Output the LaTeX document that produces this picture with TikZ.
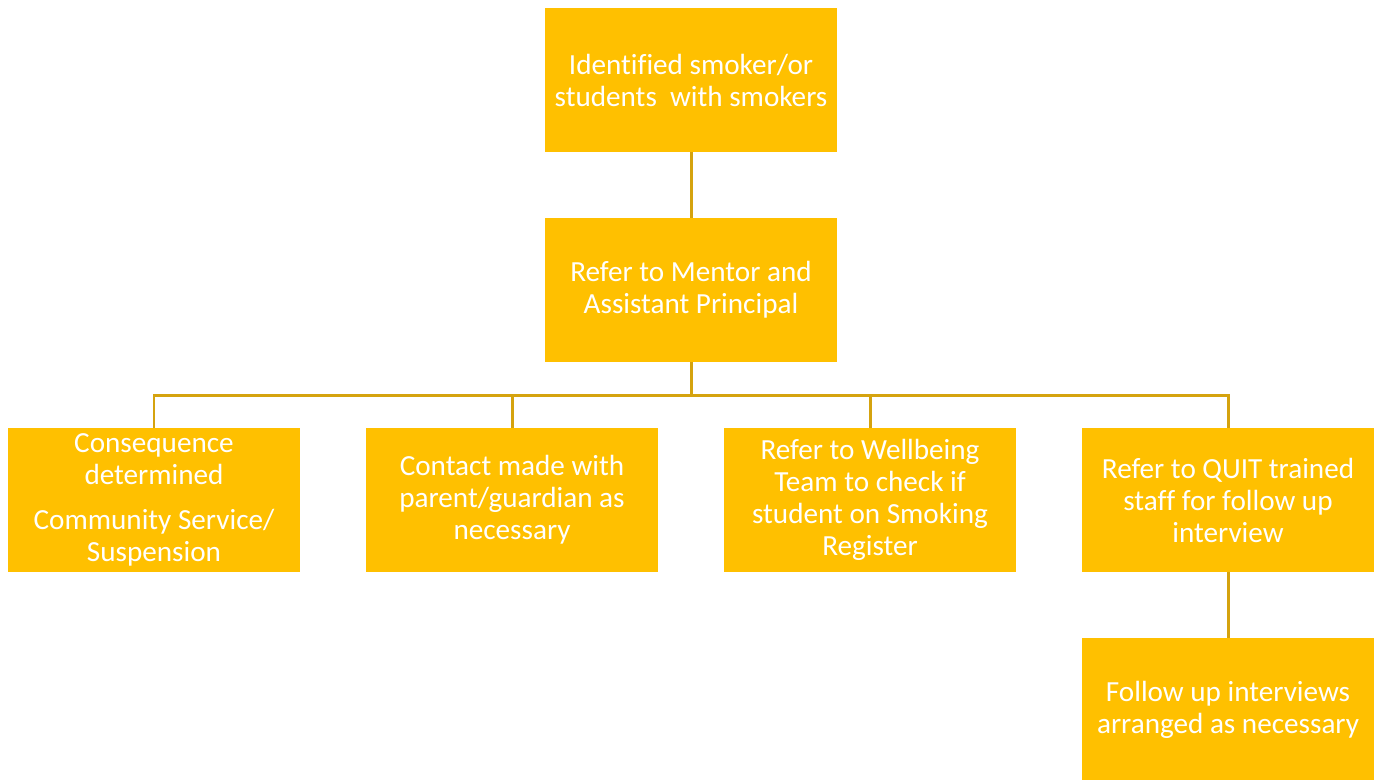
\documentclass[tikz,border=0pt]{standalone}
\usepackage{fontspec}
\setmainfont{Carlito}[Ligatures=NoCommon]
\usepackage{tikz}
\usetikzlibrary{positioning}

\definecolor{boxgold}{HTML}{FFC000}
\definecolor{linkgold}{HTML}{D5A30F}

\begin{document}
\begin{tikzpicture}[node distance={6.6mm},
    box/.style = {fill=boxgold, text=white, minimum width=29.2mm, minimum height=14.4mm,
                  inner sep=0pt, outer sep=0pt, align=center, font=\fontsize{8.3pt}{9.1pt}\selectfont},
    link/.style = {draw=linkgold, line width=0.85pt}]
    \useasboundingbox (0,0) rectangle (13.84,-7.79);

    \node[box] (smoker) at (6.91,-0.80) {Identified smoker/or\\students\ \ with smokers};
    \node[box] (refer) [below=of smoker] {Refer to Mentor and\\Assistant Principal};
    \node[box] (contact) [below=of refer, xshift=-17.9mm] {Contact made with\\parent/guardian as\\necessary};
    \node[box] (conseq) [left=of contact] {Consequence\\determined\\[3.6pt]Community Service/\\Suspension};
    \node[box] (wellbeing) [below=of refer, xshift=17.9mm] {Refer to Wellbeing\\Team to check if\\student on Smoking\\Register};
    \node[box] (quit) [right=of wellbeing] {Refer to QUIT trained\\staff for follow up\\interview};
    \node[box] (follow) [below=of quit] {Follow up interviews\\arranged as necessary};

    \coordinate (bus) at ([yshift=-3.3mm]refer.south);

    \draw[link] (smoker) -- (refer);
    \draw[link] (refer) -- (bus);
    \draw[link] (conseq) |- (bus) -| (quit);
    \draw[link] (bus -| contact) -- (contact);
    \draw[link] (bus -| wellbeing) -- (wellbeing);
    \draw[link] (quit) -- (follow);
\end{tikzpicture}
\end{document}
